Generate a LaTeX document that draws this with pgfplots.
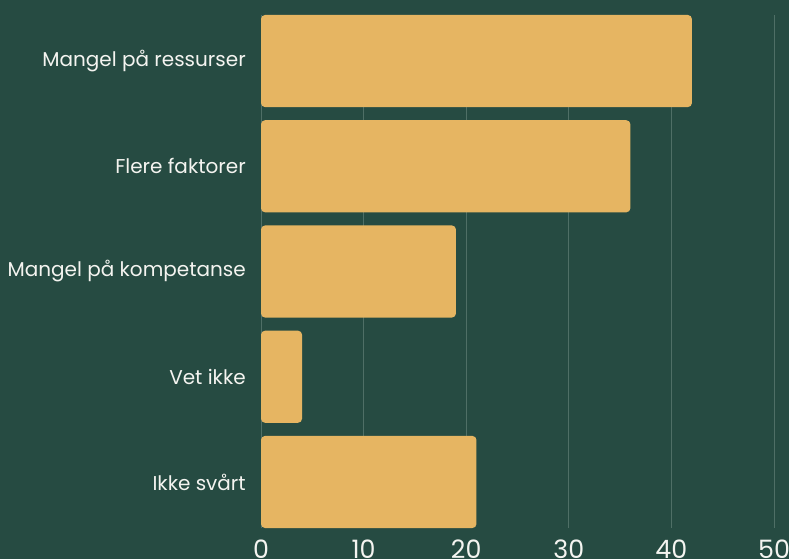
\documentclass[border=0pt]{standalone}
\usepackage{fontspec}
\setmainfont{Poppins}
\usepackage{pgfplots}
\pgfplotsset{compat=1.18}
\usetikzlibrary{backgrounds}

\definecolor{bg}{HTML}{264B42}
\definecolor{barc}{HTML}{E6B562}
\definecolor{gridc}{HTML}{4F6F66}
\definecolor{txt}{HTML}{F4F4F0}

\begin{document}
\begin{tikzpicture}
\begin{axis}[
    scale only axis,
    width=384.75pt, height=384.75pt,
    xbar, bar width=0.875,
    xmin=0, xmax=50,
    ymin=-0.4375, ymax=4.4375, y dir=reverse,
    ytick={0,...,4},
    yticklabels={Mangel på ressurser, Flere faktorer, Mangel på kompetanse, Vet ikke, Ikke svårt},
    xtick={0,10,...,50},
    xmajorgrids,
    grid style={gridc, line width=0.75pt},
    axis line style={draw=none},
    major tick length=0pt,
    tick label style={text=txt},
    yticklabel style={font=\fontsize{15}{18}\selectfont, anchor=east, inner sep=0pt, xshift=-11.25pt},
    xticklabel style={font=\fontsize{19}{22}\selectfont, anchor=north, inner sep=0pt, yshift=-9pt},
    /pgf/number format/assume math mode=true,
]
\addplot[fill=barc, draw=none, rounded corners=3pt] coordinates {
    (42,0) (36,1) (19,2) (4,3) (21,4)
};
\end{axis}
\pgfresetboundingbox
\begin{scope}[on background layer]
\fill[bg] ([shift={(-195.75pt,-23.25pt)}]current axis.south west) rectangle ([shift={(11.25pt,11.25pt)}]current axis.north east);
\end{scope}
\path[use as bounding box] ([shift={(-195.75pt,-23.25pt)}]current axis.south west) rectangle ([shift={(11.25pt,11.25pt)}]current axis.north east);
\end{tikzpicture}
\end{document}
